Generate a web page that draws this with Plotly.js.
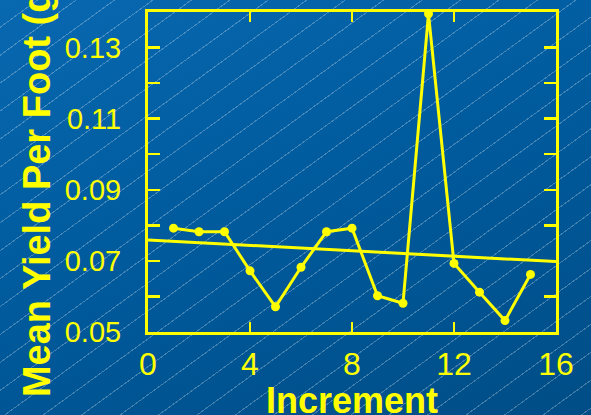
<!DOCTYPE html>
<html>
<head>
<meta charset="utf-8">
<script src="https://cdn.plot.ly/plotly-3.0.1.min.js"></script>
<style>
  html, body { margin: 0; padding: 0; }
  body {
    width: 591px; height: 415px; overflow: hidden;
    background:
      repeating-linear-gradient(144deg, rgba(255,255,255,0) 0px, rgba(255,255,255,0) 21.6px, rgba(255,255,255,0.26) 21.6px, rgba(255,255,255,0.26) 22.6px),
      linear-gradient(160deg, #0868b0 0%, #005a9c 50%, #004d86 100%);
  }
  #chart { width: 591px; height: 415px; }
</style>
</head>
<body>
<div id="chart"></div>
<script>
// Mean yield per foot for each increment
const increments = [1, 2, 3, 4, 5, 6, 7, 8, 9, 10, 11, 12, 13, 14, 15];
const meanYield = [0.0792, 0.0782, 0.0782, 0.0672, 0.0571, 0.0682, 0.0782, 0.0792,
                   0.0602, 0.0581, 0.1395, 0.0693, 0.0612, 0.0532, 0.0662];

// Linear trend across the full increment range
const trendX = [0, 16];
const trendY = [0.0759, 0.0698];

// Axis ticks
const xTickVals = [0, 4, 8, 12, 16];
const yTickVals = [0.05, 0.07, 0.09, 0.11, 0.13];
const yTickText = ['0.05', '0.07', '0.09', '0.11', '0.13'];

const yellow = '#ffff00';

const traces = [
  {
    x: trendX, y: trendY, mode: 'lines', type: 'scatter',
    line: { color: yellow, width: 3 }, hoverinfo: 'skip', cliponaxis: false
  },
  {
    x: increments, y: meanYield, mode: 'lines+markers', type: 'scatter',
    line: { color: yellow, width: 3 },
    marker: { color: yellow, size: 9, symbol: 'circle' },
    cliponaxis: false
  }
];

const layout = {
  width: 591, height: 415,
  margin: { l: 148, r: 35, t: 12, b: 83 },
  paper_bgcolor: 'rgba(0,0,0,0)',
  plot_bgcolor: 'rgba(0,0,0,0)',
  showlegend: false,
  font: { family: 'Liberation Sans, Arial, sans-serif', color: yellow },
  xaxis: {
    range: [0, 16], tickmode: 'array', tickvals: xTickVals,
    ticks: 'inside', ticklen: 10, tickwidth: 2.5, tickcolor: yellow,
    showline: true, linecolor: yellow, linewidth: 3, mirror: 'ticks',
    showgrid: false, zeroline: false,
    tickfont: { size: 32, color: yellow }, ticklabelstandoff: 2
  },
  yaxis: {
    range: [0.05, 0.14], tickmode: 'array', tickvals: yTickVals, ticktext: yTickText,
    ticks: 'inside', ticklen: 12, tickwidth: 2.5, tickcolor: yellow,
    minor: { dtick: 0.01, tick0: 0.05, ticks: 'inside', ticklen: 12, tickwidth: 2.5, tickcolor: yellow, showgrid: false },
    showline: true, linecolor: yellow, linewidth: 3, mirror: 'ticks',
    showgrid: false, zeroline: false,
    tickfont: { size: 29, color: yellow }, ticklabelstandoff: 18
  },
  annotations: [
    {
      // x-axis title, sitting low against the bottom edge
      text: '<b>Increment</b>',
      xref: 'paper', yref: 'paper', x: 0.5, y: -0.2156,
      xanchor: 'center', yanchor: 'middle', showarrow: false,
      font: { size: 36, color: yellow }
    },
    {
      // y-axis title
      text: '<b>Mean Yield Per Foot (g)</b>', textangle: -90,
      xref: 'paper', yref: 'paper', x: -0.272, y: 0.453,
      xanchor: 'center', yanchor: 'middle', showarrow: false,
      font: { size: 38, color: yellow }
    }
  ]
};

Plotly.newPlot('chart', traces, layout, { staticPlot: true, displayModeBar: false });
</script>
</body>
</html>
